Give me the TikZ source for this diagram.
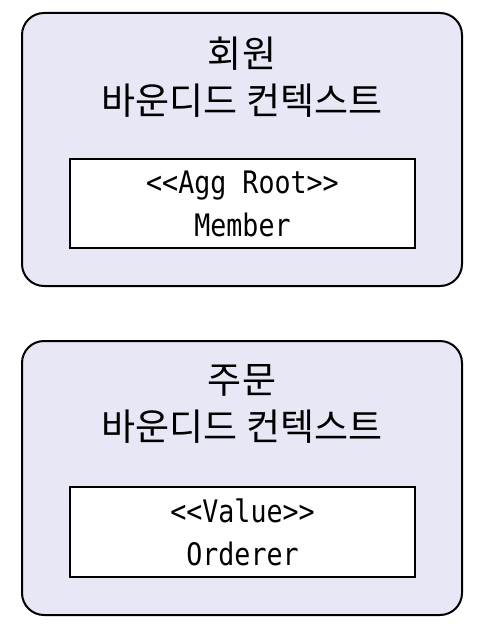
\documentclass[tikz,border=0pt]{standalone}
\usepackage{fontspec}
\setmainfont{Noto Sans CJK KR}
\newfontfamily\objfont[FakeStretch=0.86]{DejaVu Sans Mono}
\definecolor{ctxfill}{RGB}{231,231,246}
\tikzset{
  ctxbox/.style={draw=black, line width=2pt, fill=ctxfill, rounded corners=22pt,
    minimum width=440pt, minimum height=273pt, inner sep=0pt},
  ctxtitle/.style={align=center, font=\fontsize{37}{47}\selectfont, inner sep=0pt},
  objbox/.style={draw=black, line width=2pt, fill=white, minimum width=345pt,
    minimum height=89pt, inner sep=0pt, align=center,
    font=\objfont\fontsize{31}{43}\selectfont}
}
\begin{document}
\begin{tikzpicture}[x=1pt,y=-1pt]
                \useasboundingbox (0,0) rectangle (483,634);
                % member context
                \draw node[ctxbox] (memberctx) at (242,149.5) {};
                \draw node[ctxtitle] (membertitle) at (242,77) {회원\\바운디드 컨텍스트};
                \draw node[objbox] (member) at (242.5,203.5) {<{}<Agg Root>{}>\\Member};

                % order context
                \draw node[ctxbox, minimum height=274pt] (orderctx) at (242,478) {};
                \draw node[ctxtitle] (ordertitle) at (242,404) {주문\\바운디드 컨텍스트};
                \draw node[objbox, minimum height=90pt] (orderer) at (242.5,532) {<{}<Value>{}>\\Orderer};
            \end{tikzpicture}
\end{document}
